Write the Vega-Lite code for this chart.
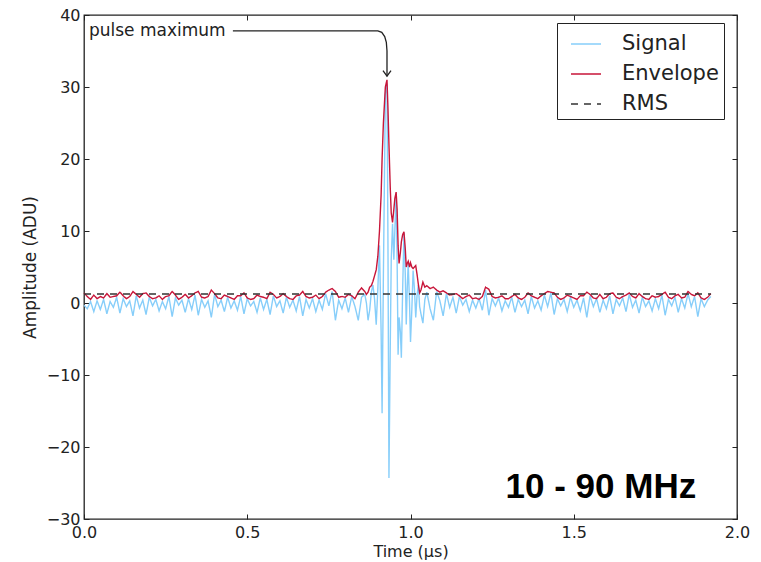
{
  "$schema": "https://vega.github.io/schema/vega-lite/v6.json",
  "width": 653,
  "height": 504,
  "autosize": {"type": "none"},
  "padding": {"left": 84, "top": 15, "right": 24, "bottom": 43},
  "background": "white",
  "config": {
    "view": {"stroke": "#222", "strokeWidth": 1.3},
    "font": "DejaVu Sans"
  },
  "datasets": {
    "wave": [
      {"t":0.00,"Signal":-0.3,"Envelope":1.4},{"t":0.01,"Signal":-0.8,"Envelope":0.9},{"t":0.02,"Signal":0.2,"Envelope":0.5},{"t":0.03,"Signal":-1.2,"Envelope":1.1},{"t":0.04,"Signal":0.3,"Envelope":0.6},{"t":0.05,"Signal":-0.9,"Envelope":0.9},{"t":0.06,"Signal":0.5,"Envelope":0.7},{"t":0.07,"Signal":-1.5,"Envelope":1.3},{"t":0.08,"Signal":0.2,"Envelope":0.8},{"t":0.09,"Signal":-0.6,"Envelope":0.9},
      {"t":0.10,"Signal":0.8,"Envelope":1.0},{"t":0.11,"Signal":-1.4,"Envelope":1.5},{"t":0.12,"Signal":0.6,"Envelope":1.0},{"t":0.13,"Signal":-0.5,"Envelope":0.6},{"t":0.14,"Signal":0.3,"Envelope":0.9},{"t":0.15,"Signal":-1.8,"Envelope":1.6},{"t":0.16,"Signal":1.0,"Envelope":1.2},{"t":0.17,"Signal":-0.7,"Envelope":0.8},{"t":0.18,"Signal":0.4,"Envelope":1.3},{"t":0.19,"Signal":-1.6,"Envelope":1.4},
      {"t":0.20,"Signal":0.8,"Envelope":0.9},{"t":0.21,"Signal":-0.4,"Envelope":0.6},{"t":0.22,"Signal":0.5,"Envelope":0.7},{"t":0.23,"Signal":-1.1,"Envelope":1.0},{"t":0.24,"Signal":0.2,"Envelope":0.5},{"t":0.25,"Signal":-0.8,"Envelope":0.9},{"t":0.26,"Signal":0.9,"Envelope":1.0},{"t":0.27,"Signal":-1.9,"Envelope":1.6},{"t":0.28,"Signal":0.7,"Envelope":1.1},{"t":0.29,"Signal":-0.3,"Envelope":0.5},
      {"t":0.30,"Signal":0.4,"Envelope":0.8},{"t":0.31,"Signal":-1.3,"Envelope":1.2},{"t":0.32,"Signal":0.6,"Envelope":0.7},{"t":0.33,"Signal":-0.9,"Envelope":1.0},{"t":0.34,"Signal":1.1,"Envelope":1.4},{"t":0.35,"Signal":-1.7,"Envelope":1.6},{"t":0.36,"Signal":0.5,"Envelope":0.8},{"t":0.37,"Signal":-0.6,"Envelope":0.7},{"t":0.38,"Signal":0.3,"Envelope":0.9},{"t":0.39,"Signal":-2.0,"Envelope":1.8},
      {"t":0.40,"Signal":1.2,"Envelope":1.3},{"t":0.41,"Signal":-0.5,"Envelope":0.7},{"t":0.42,"Signal":0.4,"Envelope":0.6},{"t":0.43,"Signal":-1.2,"Envelope":1.1},{"t":0.44,"Signal":0.8,"Envelope":0.9},{"t":0.45,"Signal":-0.7,"Envelope":0.7},{"t":0.46,"Signal":0.3,"Envelope":0.5},{"t":0.47,"Signal":-1.0,"Envelope":1.0},{"t":0.48,"Signal":0.9,"Envelope":1.0},{"t":0.49,"Signal":-1.5,"Envelope":1.4},
      {"t":0.50,"Signal":0.6,"Envelope":0.7},{"t":0.51,"Signal":-0.4,"Envelope":0.5},{"t":0.52,"Signal":0.2,"Envelope":0.6},{"t":0.53,"Signal":-1.3,"Envelope":1.1},{"t":0.54,"Signal":0.7,"Envelope":0.9},{"t":0.55,"Signal":-0.9,"Envelope":0.8},{"t":0.56,"Signal":0.5,"Envelope":0.6},{"t":0.57,"Signal":-1.6,"Envelope":1.5},{"t":0.58,"Signal":1.0,"Envelope":1.2},{"t":0.59,"Signal":-0.5,"Envelope":0.7},
      {"t":0.60,"Signal":0.3,"Envelope":0.9},{"t":0.61,"Signal":-1.4,"Envelope":1.3},{"t":0.62,"Signal":0.8,"Envelope":0.9},{"t":0.63,"Signal":-0.6,"Envelope":0.6},{"t":0.64,"Signal":0.4,"Envelope":0.5},{"t":0.65,"Signal":-1.1,"Envelope":1.0},{"t":0.66,"Signal":0.9,"Envelope":1.1},{"t":0.67,"Signal":-1.8,"Envelope":1.6},{"t":0.68,"Signal":0.5,"Envelope":0.9},{"t":0.69,"Signal":-0.7,"Envelope":0.7},
      {"t":0.70,"Signal":0.6,"Envelope":0.8},{"t":0.71,"Signal":-1.2,"Envelope":1.1},{"t":0.72,"Signal":0.4,"Envelope":0.6},{"t":0.73,"Signal":-0.9,"Envelope":0.9},{"t":0.74,"Signal":1.3,"Envelope":1.5},{"t":0.75,"Signal":-0.4,"Envelope":1.8},{"t":0.76,"Signal":1.6,"Envelope":2.0},{"t":0.77,"Signal":-2.4,"Envelope":1.6},{"t":0.78,"Signal":0.4,"Envelope":0.8},{"t":0.79,"Signal":-0.8,"Envelope":0.9},
      {"t":0.80,"Signal":0.7,"Envelope":0.8},{"t":0.81,"Signal":-1.3,"Envelope":1.2},{"t":0.82,"Signal":0.9,"Envelope":1.0},{"t":0.83,"Signal":-0.5,"Envelope":0.6},{"t":0.84,"Signal":-2.4,"Envelope":1.5},{"t":0.85,"Signal":0.8,"Envelope":2.1},{"t":0.86,"Signal":1.2,"Envelope":1.6},{"t":0.865,"Signal":0.0,"Envelope":1.2},{"t":0.87,"Signal":-2.4,"Envelope":1.5},{"t":0.875,"Signal":-1.0,"Envelope":2.2},
      {"t":0.88,"Signal":1.5,"Envelope":2.4},{"t":0.885,"Signal":2.5,"Envelope":3.0},{"t":0.89,"Signal":0.5,"Envelope":3.8},{"t":0.895,"Signal":-3.0,"Envelope":4.6},{"t":0.90,"Signal":2.0,"Envelope":6.5},{"t":0.905,"Signal":8.0,"Envelope":10.0},{"t":0.91,"Signal":-4.0,"Envelope":15.0},{"t":0.913,"Signal":-15.3,"Envelope":20.0},{"t":0.917,"Signal":4.0,"Envelope":25.0},{"t":0.923,"Signal":29.0,"Envelope":30.0},
      {"t":0.928,"Signal":30.5,"Envelope":31.0},{"t":0.931,"Signal":8.0,"Envelope":27.0},{"t":0.934,"Signal":-24.3,"Envelope":22.0},{"t":0.938,"Signal":-6.0,"Envelope":16.0},{"t":0.941,"Signal":6.0,"Envelope":12.5},{"t":0.945,"Signal":11.0,"Envelope":11.2},{"t":0.949,"Signal":6.0,"Envelope":13.0},{"t":0.952,"Signal":10.0,"Envelope":14.5},{"t":0.956,"Signal":15.2,"Envelope":15.4},{"t":0.959,"Signal":6.0,"Envelope":13.0},
      {"t":0.962,"Signal":-7.2,"Envelope":8.0},{"t":0.965,"Signal":-2.0,"Envelope":5.5},{"t":0.969,"Signal":-4.0,"Envelope":7.0},{"t":0.972,"Signal":-7.6,"Envelope":8.5},{"t":0.976,"Signal":2.0,"Envelope":9.5},{"t":0.980,"Signal":9.7,"Envelope":9.9},{"t":0.984,"Signal":4.0,"Envelope":7.5},{"t":0.987,"Signal":-3.0,"Envelope":5.0},{"t":0.990,"Signal":2.0,"Envelope":5.5},{"t":0.993,"Signal":5.5,"Envelope":5.8},
      {"t":0.997,"Signal":0.0,"Envelope":5.0},{"t":1.000,"Signal":-5.4,"Envelope":5.6},{"t":1.004,"Signal":-1.0,"Envelope":5.0},{"t":1.008,"Signal":4.5,"Envelope":4.8},{"t":1.012,"Signal":2.0,"Envelope":5.0},{"t":1.016,"Signal":-2.0,"Envelope":5.2},{"t":1.020,"Signal":1.0,"Envelope":4.0},{"t":1.024,"Signal":2.5,"Envelope":2.6},{"t":1.028,"Signal":-0.5,"Envelope":1.4},{"t":1.032,"Signal":-1.5,"Envelope":1.8},
      {"t":1.038,"Signal":-2.8,"Envelope":2.9},{"t":1.044,"Signal":0.5,"Envelope":2.2},{"t":1.05,"Signal":1.5,"Envelope":2.4},{"t":1.06,"Signal":-0.8,"Envelope":2.0},{"t":1.07,"Signal":-2.4,"Envelope":2.2},{"t":1.08,"Signal":1.6,"Envelope":1.8},{"t":1.09,"Signal":0.3,"Envelope":1.5},{"t":1.10,"Signal":-1.8,"Envelope":1.7},{"t":1.11,"Signal":1.3,"Envelope":1.4},{"t":1.12,"Signal":-0.6,"Envelope":1.1},
      {"t":1.13,"Signal":0.8,"Envelope":1.2},{"t":1.14,"Signal":-1.4,"Envelope":1.3},{"t":1.15,"Signal":0.9,"Envelope":1.0},{"t":1.16,"Signal":-0.3,"Envelope":0.6},{"t":1.17,"Signal":0.5,"Envelope":0.9},{"t":1.18,"Signal":-1.2,"Envelope":1.1},{"t":1.19,"Signal":0.4,"Envelope":0.6},{"t":1.20,"Signal":-0.7,"Envelope":0.7},{"t":1.21,"Signal":0.6,"Envelope":0.5},{"t":1.22,"Signal":-1.0,"Envelope":0.9},
      {"t":1.23,"Signal":1.8,"Envelope":2.2},{"t":1.24,"Signal":-1.7,"Envelope":1.9},{"t":1.25,"Signal":0.6,"Envelope":0.9},{"t":1.26,"Signal":-0.4,"Envelope":0.7},{"t":1.27,"Signal":0.7,"Envelope":0.8},{"t":1.28,"Signal":-1.1,"Envelope":1.0},{"t":1.29,"Signal":0.3,"Envelope":0.6},{"t":1.30,"Signal":-0.6,"Envelope":0.6},{"t":1.31,"Signal":0.8,"Envelope":0.9},{"t":1.32,"Signal":-1.3,"Envelope":1.2},
      {"t":1.33,"Signal":0.5,"Envelope":0.7},{"t":1.34,"Signal":-0.5,"Envelope":0.5},{"t":1.35,"Signal":0.4,"Envelope":0.8},{"t":1.36,"Signal":-1.5,"Envelope":1.4},{"t":1.37,"Signal":0.9,"Envelope":1.0},{"t":1.38,"Signal":-0.7,"Envelope":0.8},{"t":1.39,"Signal":0.3,"Envelope":0.6},{"t":1.40,"Signal":-1.0,"Envelope":1.0},{"t":1.41,"Signal":1.1,"Envelope":1.3},{"t":1.42,"Signal":-0.5,"Envelope":1.6},
      {"t":1.43,"Signal":1.4,"Envelope":1.5},{"t":1.44,"Signal":-1.6,"Envelope":1.4},{"t":1.45,"Signal":0.6,"Envelope":0.8},{"t":1.46,"Signal":-0.4,"Envelope":0.5},{"t":1.47,"Signal":0.5,"Envelope":0.7},{"t":1.48,"Signal":-1.2,"Envelope":1.1},{"t":1.49,"Signal":0.8,"Envelope":0.9},{"t":1.50,"Signal":-0.6,"Envelope":0.7},{"t":1.51,"Signal":0.4,"Envelope":0.5},{"t":1.52,"Signal":-1.1,"Envelope":1.0},
      {"t":1.53,"Signal":0.7,"Envelope":1.0},{"t":1.54,"Signal":-2.0,"Envelope":1.5},{"t":1.55,"Signal":1.0,"Envelope":1.2},{"t":1.56,"Signal":-0.5,"Envelope":0.7},{"t":1.57,"Signal":0.6,"Envelope":0.6},{"t":1.58,"Signal":-1.3,"Envelope":1.2},{"t":1.59,"Signal":0.4,"Envelope":0.6},{"t":1.60,"Signal":-0.8,"Envelope":0.8},{"t":1.61,"Signal":1.0,"Envelope":1.3},{"t":1.62,"Signal":-1.5,"Envelope":1.4},
      {"t":1.63,"Signal":0.5,"Envelope":0.8},{"t":1.64,"Signal":-0.4,"Envelope":0.6},{"t":1.65,"Signal":0.7,"Envelope":0.9},{"t":1.66,"Signal":-1.2,"Envelope":1.1},{"t":1.67,"Signal":1.2,"Envelope":1.4},{"t":1.68,"Signal":-0.6,"Envelope":0.9},{"t":1.69,"Signal":0.4,"Envelope":0.7},{"t":1.70,"Signal":-1.4,"Envelope":1.3},{"t":1.71,"Signal":0.8,"Envelope":0.9},{"t":1.72,"Signal":-0.5,"Envelope":0.6},
      {"t":1.73,"Signal":0.3,"Envelope":0.5},{"t":1.74,"Signal":-1.1,"Envelope":1.0},{"t":1.75,"Signal":0.6,"Envelope":0.8},{"t":1.76,"Signal":-0.8,"Envelope":0.9},{"t":1.77,"Signal":1.1,"Envelope":1.2},{"t":1.78,"Signal":-1.7,"Envelope":1.5},{"t":1.79,"Signal":0.5,"Envelope":0.8},{"t":1.80,"Signal":-0.4,"Envelope":0.6},{"t":1.81,"Signal":0.8,"Envelope":1.0},{"t":1.82,"Signal":-1.3,"Envelope":1.2},
      {"t":1.83,"Signal":0.6,"Envelope":0.7},{"t":1.84,"Signal":-0.7,"Envelope":0.8},{"t":1.85,"Signal":1.3,"Envelope":1.6},{"t":1.86,"Signal":-0.5,"Envelope":1.2},{"t":1.87,"Signal":0.9,"Envelope":1.0},{"t":1.88,"Signal":-1.9,"Envelope":1.4},{"t":1.89,"Signal":0.6,"Envelope":0.7},{"t":1.90,"Signal":-0.5,"Envelope":0.5},{"t":1.91,"Signal":0.4,"Envelope":0.8},{"t":1.92,"Signal":0.9,"Envelope":1.3}
    ],
    "rms": [
      {"t": 0.0, "v": 1.25, "series": "RMS"},
      {"t": 1.92, "v": 1.25, "series": "RMS"}
    ],
    "arrow": [
      {"t": 0.456, "v": 37.8, "o": 1},
      {"t": 0.900, "v": 37.8, "o": 2},
      {"t": 0.912, "v": 37.6, "o": 3},
      {"t": 0.921, "v": 37.0, "o": 4},
      {"t": 0.926, "v": 36.2, "o": 5},
      {"t": 0.928, "v": 35.0, "o": 6},
      {"t": 0.928, "v": 31.5, "o": 7}
    ],
    "tip": [{"t": 0.928, "v": 31.5}],
    "note": [{"t": 0.015, "v": 37.8, "label": "pulse maximum"}],
    "band": [{"t": 1.583, "v": -27.1, "label": "10 - 90 MHz"}]
  },
  "layer": [
    {
      "data": {"name": "wave"},
      "transform": [{"fold": ["Signal", "Envelope"], "as": ["series", "v"]}],
      "mark": {"type": "line", "strokeWidth": 1.4},
      "encoding": {
        "x": {
          "field": "t", "type": "quantitative",
          "scale": {"domain": [0, 2], "nice": false, "zero": false},
          "axis": {
            "orient": "bottom", "values": [0, 0.5, 1, 1.5, 2], "format": ".1f",
            "domain": false, "grid": false, "tickSize": -5, "tickColor": "#222",
            "labelFontSize": 16, "labelColor": "#222", "labelFont": "DejaVu Sans", "labelPadding": 10,
            "title": "Time (μs)", "titleFontSize": 16, "titleFontWeight": "normal", "titleColor": "#222",
            "titleFont": "DejaVu Sans", "titlePadding": 3, "labelFlush": false
          }
        },
        "y": {
          "field": "v", "type": "quantitative",
          "scale": {"domain": [-30, 40], "nice": false, "zero": false},
          "axis": {
            "orient": "left", "values": [-30, -20, -10, 0, 10, 20, 30, 40], "format": "d",
            "domain": false, "grid": false, "tickSize": -5, "tickColor": "#222",
            "labelFontSize": 16, "labelColor": "#222", "labelFont": "DejaVu Sans", "labelPadding": 9,
            "title": "Amplitude (ADU)", "titleFontSize": 17, "titleFontWeight": "normal", "titleColor": "#222",
            "titleFont": "DejaVu Sans", "titlePadding": 7, "labelFlush": false
          }
        },
        "color": {
          "field": "series", "type": "nominal",
          "scale": {"domain": ["Signal", "Envelope", "RMS"], "range": ["#87CEFA", "#C8163A", "#333333"]},
          "legend": {
            "orient": "none", "legendX": 473, "legendY": 8, "title": null,
            "strokeColor": "#222", "fillColor": "white", "padding": 5, "cornerRadius": 0,
            "symbolType": "stroke", "symbolSize": 900, "symbolStrokeWidth": 1.4, "symbolOffset": 8,
            "labelFontSize": 21, "labelColor": "#222", "labelFont": "DejaVu Sans", "labelOffset": 20, "rowPadding": 4
          }
        },
        "strokeDash": {
          "field": "series", "type": "nominal",
          "scale": {"domain": ["Signal", "Envelope", "RMS"], "range": [[1, 0], [1, 0], [7, 6]]},
          "legend": {
            "orient": "none", "legendX": 473, "legendY": 8, "title": null,
            "strokeColor": "#222", "fillColor": "white", "padding": 5, "cornerRadius": 0,
            "symbolType": "stroke", "symbolSize": 900, "symbolStrokeWidth": 1.4, "symbolOffset": 8,
            "labelFontSize": 21, "labelColor": "#222", "labelFont": "DejaVu Sans", "labelOffset": 20, "rowPadding": 4
          }
        }
      }
    },
    {
      "data": {"name": "rms"},
      "mark": {"type": "line", "strokeWidth": 1.5},
      "encoding": {
        "x": {
          "field": "t", "type": "quantitative",
          "axis": {"orient": "top", "values": [0, 0.5, 1, 1.5, 2], "labels": false, "domain": false, "grid": false, "tickSize": -5, "tickColor": "#222", "title": null}
        },
        "y": {
          "field": "v", "type": "quantitative",
          "axis": {"orient": "right", "values": [-30, -20, -10, 0, 10, 20, 30, 40], "labels": false, "domain": false, "grid": false, "tickSize": -5, "tickColor": "#222", "title": null}
        },
        "color": {"field": "series", "type": "nominal"},
        "strokeDash": {"field": "series", "type": "nominal"}
      }
    },
    {
      "data": {"name": "arrow"},
      "mark": {"type": "line", "color": "#222", "strokeWidth": 1.3},
      "encoding": {
        "x": {"field": "t", "type": "quantitative", "axis": null},
        "y": {"field": "v", "type": "quantitative", "axis": null},
        "order": {"field": "o", "type": "quantitative"}
      }
    },
    {
      "data": {"name": "tip"},
      "mark": {"type": "point", "shape": "M-0.8,-1.1L0,0L0.8,-1.1", "filled": false, "stroke": "#222", "strokeWidth": 1.3, "size": 100, "opacity": 1},
      "encoding": {
        "x": {"field": "t", "type": "quantitative", "axis": null},
        "y": {"field": "v", "type": "quantitative", "axis": null}
      }
    },
    {
      "data": {"name": "note"},
      "mark": {"type": "text", "align": "left", "baseline": "middle", "font": "DejaVu Sans", "fontSize": 17, "color": "#222"},
      "encoding": {
        "x": {"field": "t", "type": "quantitative", "axis": null},
        "y": {"field": "v", "type": "quantitative", "axis": null},
        "text": {"field": "label"}
      }
    },
    {
      "data": {"name": "band"},
      "mark": {"type": "text", "align": "center", "baseline": "alphabetic", "font": "Liberation Sans", "fontWeight": "bold", "fontSize": 35, "color": "#000"},
      "encoding": {
        "x": {"field": "t", "type": "quantitative", "axis": null},
        "y": {"field": "v", "type": "quantitative", "axis": null},
        "text": {"field": "label"}
      }
    }
  ],
  "resolve": {"axis": {"x": "independent", "y": "independent"}}
}
